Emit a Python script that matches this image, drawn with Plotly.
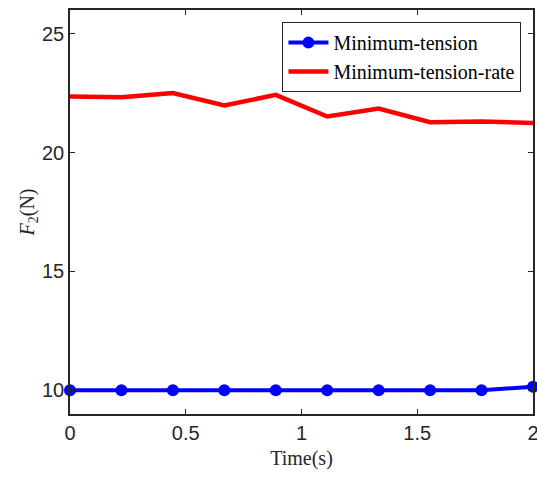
import plotly.graph_objects as go

time_s = [0, 2/9, 4/9, 6/9, 8/9, 10/9, 12/9, 14/9, 16/9, 2]
min_tension = [10.0, 10.0, 10.0, 10.0, 10.0, 10.0, 10.0, 10.0, 10.0, 10.15]
min_tension_rate = [22.36, 22.33, 22.51, 21.98, 22.43, 21.52, 21.85, 21.28, 21.31, 21.25]
x_ticks = [0, 0.5, 1, 1.5, 2]
x_tick_labels = ["0", "0.5", "1", "1.5", "2"]
y_ticks = [10, 15, 20, 25]
y_tick_labels = ["10", "15", "20", "25"]

serif = "Liberation Serif, DejaVu Serif, serif"

fig = go.Figure()
fig.add_trace(go.Scatter(
    x=time_s, y=min_tension, mode="lines+markers", name="Minimum-tension",
    line=dict(color="#0000ff", width=4),
    marker=dict(color="#0000ff", size=12, symbol="circle"),
    cliponaxis=False,
))
fig.add_trace(go.Scatter(
    x=time_s, y=min_tension_rate, mode="lines", name="Minimum-tension-rate",
    line=dict(color="#ff0000", width=4.5),
))

axis_common = dict(
    showgrid=False, zeroline=False, showline=True, linecolor="#262626", linewidth=1.5,
    mirror="allticks", ticks="inside", ticklen=5, tickwidth=1.2, tickcolor="#262626",
    tickfont=dict(family="Liberation Sans, Arial, sans-serif", size=20, color="#262626"),
    automargin=False, ticklabeloverflow="allow",
)

fig.update_layout(
    width=537, height=478,
    margin=dict(l=70, r=4, t=10, b=64),
    plot_bgcolor="white", paper_bgcolor="white",
    showlegend=True,
    legend=dict(
        x=0.975, y=0.970, xanchor="right", yanchor="top",
        bordercolor="#262626", borderwidth=1, bgcolor="white",
        font=dict(family=serif, size=20, color="black"),
        tracegroupgap=0, itemwidth=40,
    ),
    xaxis=dict(
        range=[0, 2], tickvals=x_ticks, ticktext=x_tick_labels,
        title=dict(text="Time(s)", font=dict(family=serif, size=20, color="#262626"), standoff=8),
        **axis_common,
    ),
    yaxis=dict(
        range=[9, 26], tickvals=y_ticks, ticktext=y_tick_labels,
        title=dict(text="<i>F</i><sub>2</sub>(N)", font=dict(family=serif, size=20, color="#262626"), standoff=2),
        **axis_common,
    ),
)

fig.write_html("out.html")
